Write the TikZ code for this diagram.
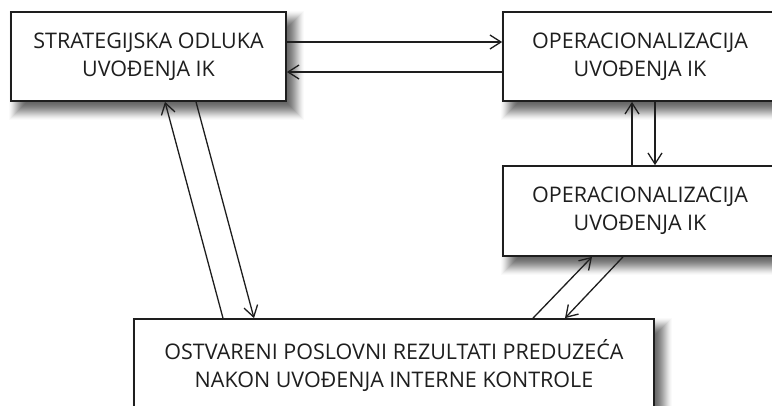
\PassOptionsToPackage{rgb}{xcolor}
\documentclass[tikz,border=0pt]{standalone}
\usepackage{fontspec}
\setmainfont{Open Sans}
\usetikzlibrary{arrows.meta}
\definecolor{ink}{RGB}{30,30,30}
\tikzset{
  box/.style={draw=ink, line width=1.7pt, fill=white, align=center, text=ink,
    font=\fontsize{21.5}{28}\selectfont, inner sep=0pt},
  link/.style={draw=ink, line width=1.3pt, -{Straight Barb[length=11pt,width=14pt]}}
}
\newcommand{\myshadow}[4]{%
  \foreach \rr/\gg in {10/250,9/244,8/236,7/227,6/217,5/206,4/195,3/184,2/173,1/162,0/152,-1/142,-2/133,-3/125,-4/118,-5/112,-6/107,-7/103,-8/100}{%
    \definecolor{shadetmp}{RGB}{\gg,\gg,\gg}%
    \fill[shadetmp] ({#1+8-(\rr)},{#2+9-(\rr)}) rectangle ({#3+8+(\rr)},{#4+9+(\rr)});
  }%
}
\begin{document}
\begin{tikzpicture}[x=1pt,y=-1pt]
\useasboundingbox (0,0) rectangle (772,405);
\clip (0,0) rectangle (772,405);
\fill[white] (0,0) rectangle (772,405);
\myshadow{11}{12}{286}{101}
\myshadow{503}{12}{777}{101}
\myshadow{503}{166}{777}{256}
\myshadow{134}{319}{654}{413}
\node[box, minimum width=275pt, minimum height=89pt] (b1) at (148.5,56.5) {STRATEGIJSKA ODLUKA\\UVOĐENJA IK};
\node[box, minimum width=274pt, minimum height=89pt] (b2) at (640,56.5) {OPERACIONALIZACIJA\\UVOĐENJA IK};
\node[box, minimum width=274pt, minimum height=90pt] (b3) at (640,211) {OPERACIONALIZACIJA\\UVOĐENJA IK};
\node[box, minimum width=520pt, minimum height=94pt] (b4) at (394,366) {OSTVARENI POSLOVNI REZULTATI PREDUZEĆA\\NAKON UVOĐENJA INTERNE KONTROLE};
% top pair
\draw[link] (b1.east |- 0,42) -- (b2.west |- 0,42);
\draw[link] (b2.west |- 0,72) -- (b1.east |- 0,72);
% b2 - b3
\draw[link] (632,0 |- b3.north) -- (632,0 |- b2.south);
\draw[link] (655,0 |- b2.south) -- (655,0 |- b3.north);
% b1 - b4
\draw[link] (223,0 |- b4.north) -- (165,0 |- b1.south);
\draw[link] (196,0 |- b1.south) -- (254,0 |- b4.north);
% b3 - b4
\draw[link] (533,0 |- b4.north) -- (592,0 |- b3.south);
\draw[link] (623,0 |- b3.south) -- (565,0 |- b4.north);
\end{tikzpicture}
\end{document}
